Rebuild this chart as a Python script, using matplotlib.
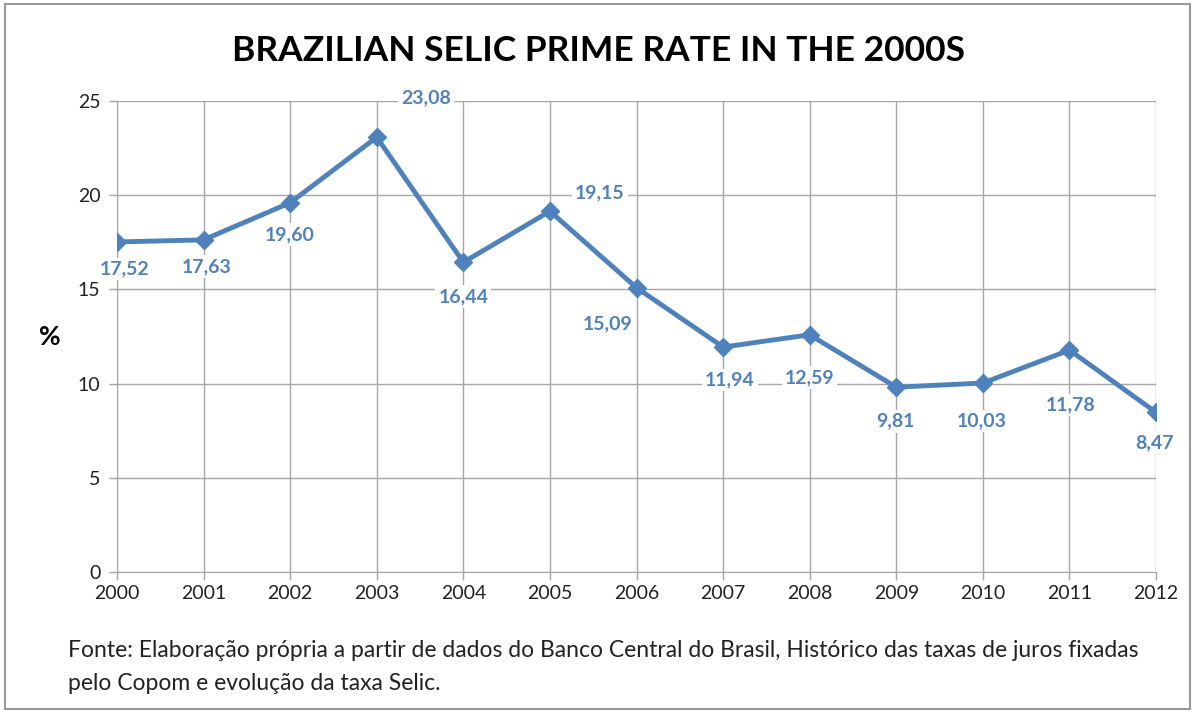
import matplotlib.pyplot as plt
from matplotlib.patches import Rectangle

# dados
years = [2000, 2001, 2002, 2003, 2004, 2005, 2006, 2007, 2008, 2009, 2010, 2011, 2012]
selic = [17.52, 17.63, 19.60, 23.08, 16.44, 19.15, 15.09, 11.94, 12.59, 9.81, 10.03, 11.78, 8.47]
labels = ['17,52', '17,63', '19,60', '23,08', '16,44', '19,15', '15,09',
          '11,94', '12,59', '9,81', '10,03', '11,78', '8,47']
yticks = [0, 5, 10, 15, 20, 25]

# deslocamento dos rotulos (pixels)
offsets = [(8, -27), (3, -27), (0, -32), (49, 39), (0, -34), (50, 18), (-29, -36),
           (7, -33), (0, -43), (-1, -34), (-1, -38), (1, -55), (-2, -30)]

blue = '#4F81BD'
grid = '#A6A6A6'
plt.rcParams['font.family'] = ['Lato', 'DejaVu Sans']

fig = plt.figure(figsize=(11.96, 7.13), dpi=100)
ax = fig.add_axes([0.0978, 0.1978, 0.8688, 0.6605])

ax.plot(years, selic, color=blue, lw=3.5, marker='D', ms=9, zorder=3)

for x, y, lab, off in zip(years, selic, labels, offsets):
    ax.annotate(lab, (x, y), xytext=off, textcoords='offset pixels',
                ha='center', va='center', fontsize=14, fontweight='bold', color=blue,
                bbox=dict(boxstyle='square,pad=0.15', fc='white', ec='none'), zorder=4)

ax.set_xlim(years[0], years[-1])
ax.set_ylim(0, 25)
ax.set_xticks(years)
ax.set_yticks(yticks)
ax.grid(True, color=grid, lw=1)
ax.set_axisbelow(True)
for s in ax.spines.values():
    s.set_visible(False)
ax.spines['left'].set_visible(True)
ax.spines['bottom'].set_visible(True)
ax.spines['left'].set_color(grid)
ax.spines['bottom'].set_color(grid)
ax.tick_params(colors=grid, labelcolor='#222222', labelsize=14, length=6, width=1)
ax.tick_params(axis='y', pad=6)

ax.text(-0.065, 0.5, '%', transform=ax.transAxes, fontsize=19, fontweight='bold',
        ha='center', va='center')

fig.text(0.5, 0.929, 'BRAZILIAN SELIC PRIME RATE IN THE 2000S', ha='center', va='center',
         fontsize=25.5, fontweight='bold', color='black')

fig.text(0.057, 0.087,
         'Fonte: Elaboração própria a partir de dados do Banco Central do Brasil, '
         'Histórico das taxas de juros fixadas',
         fontsize=16.5, ha='left', va='center', color='#222222')
fig.text(0.057, 0.042, 'pelo Copom e evolução da taxa Selic.',
         fontsize=16.5, ha='left', va='center', color='#222222')

fig.patches.append(Rectangle((0.004, 0.006), 0.991, 0.988, transform=fig.transFigure,
                             fill=False, ec='#999999', lw=1.5))

fig.savefig('out.png', dpi=100)
